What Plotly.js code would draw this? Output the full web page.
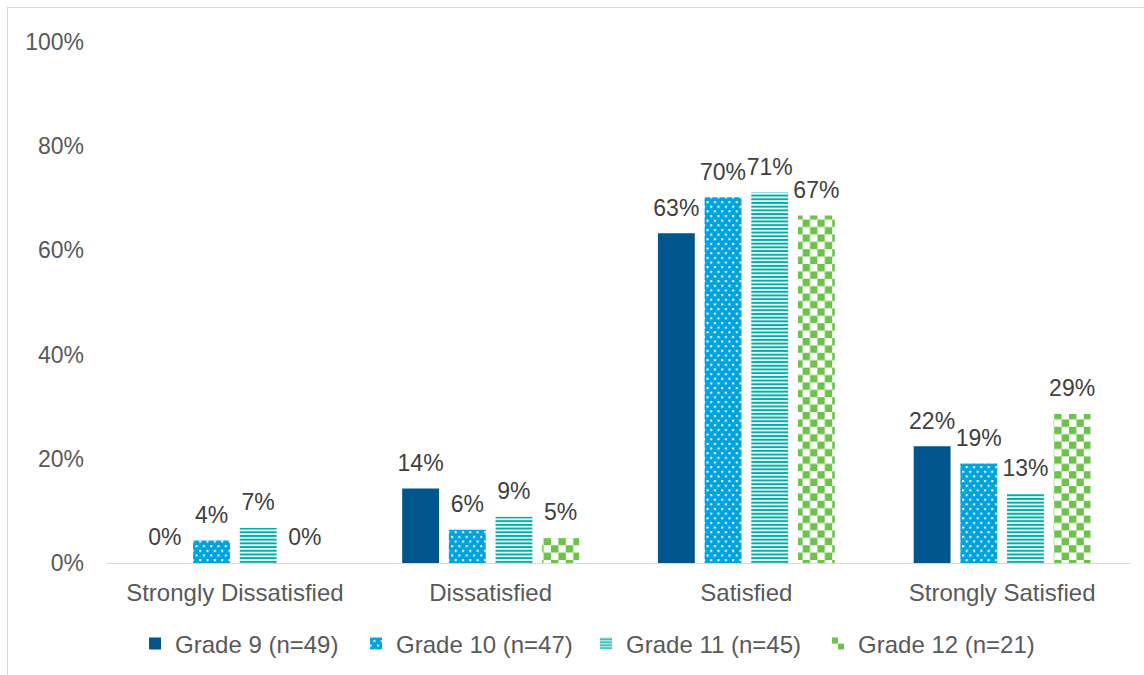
<!DOCTYPE html>
<html><head><meta charset="utf-8">
<script src="https://cdn.plot.ly/plotly-3.0.1.min.js"></script>
<style>
html,body{margin:0;padding:0;background:#fff;}
body{width:1144px;height:675px;overflow:hidden;position:relative;}
#frame{position:absolute;left:7px;top:7px;width:1160px;height:700px;border:1px solid #d9d9d9;box-sizing:border-box;}
#chart{position:absolute;left:0;top:0;width:1144px;height:675px;}
</style></head><body>
<div id="frame"></div>
<div id="chart"></div>
<script>
// ---- data ----
const categories = ['Strongly Dissatisfied', 'Dissatisfied', 'Satisfied', 'Strongly Satisfied'];
const seriesNames = ['Grade 9 (n=49)', 'Grade 10 (n=47)', 'Grade 11 (n=45)', 'Grade 12 (n=21)'];
const grade9  = [0, 14.3, 63.3, 22.4];
const grade10 = [4.3, 6.4, 70.2, 19.1];
const grade11 = [6.7, 8.9, 71.1, 13.3];
const grade12 = [0, 4.8, 66.7, 28.6];
const yTickVals = [0, 20, 40, 60, 80, 100];
const yTickText = ['0%', '20%', '40%', '60%', '80%', '100%'];

// ---- styles ----
const FONT = '"Liberation Sans", Arial, Helvetica, sans-serif';
const C9 = '#00558C', C10 = '#00A3E0', C11 = '#00ADA8', C12 = '#6CC24A';
const seriesValues = [grade9, grade10, grade11, grade12];
const markers = [
  {color: C9},
  {color: C10, pattern: {shape: '.', fgcolor: '#ffffff', fillmode: 'overlay', size: 7, solidity: 0.1}},
  {color: C11, pattern: {shape: '-', fgcolor: C11, bgcolor: '#ffffff', fillmode: 'replace', size: 3.7, solidity: 0.55}},
  {color: C12, pattern: {shape: '+', fgcolor: C12, bgcolor: '#ffffff', fillmode: 'replace', size: 7.4, solidity: 0.5}}
];
const legendWidths = [176, 185, 187, null];

const traces = [];
seriesValues.forEach((vals, i) => {
  const t = {
    type: 'bar', x: categories, y: vals, name: seriesNames[i],
    offsetgroup: 'g' + i,
    marker: Object.assign({line: {width: 0}}, markers[i]),
    hoverinfo: 'skip'
  };
  if (legendWidths[i]) t.legendwidth = legendWidths[i];
  traces.push(t);
});
seriesValues.forEach((vals, i) => {
  traces.push({
    type: 'scatter', mode: 'markers+text', x: categories, y: vals,
    offsetgroup: 'g' + i,
    texttemplate: '%{y:.0f}%', textposition: 'top center',
    textfont: {family: FONT, size: 23, color: '#404040'},
    marker: {size: 17.4, color: 'rgba(0,0,0,0)'},
    showlegend: false, cliponaxis: false, hoverinfo: 'skip'
  });
});

const layout = {
  width: 1144, height: 675,
  margin: {l: 107, r: 14, t: 42, b: 112, autoexpand: false},
  paper_bgcolor: 'rgba(0,0,0,0)', plot_bgcolor: 'rgba(0,0,0,0)',
  font: {family: FONT, color: '#595959', size: 22},
  barmode: 'group', bargap: 0.27, bargroupgap: 0.21,
  scattermode: 'group', scattergap: 0.27,
  showlegend: true,
  xaxis: {
    type: 'category', showgrid: false, zeroline: false,
    showline: true, linecolor: '#d9d9d9', linewidth: 1,
    ticks: '', tickfont: {size: 24, color: '#595959'}, ticklabelstandoff: 8
  },
  yaxis: {
    range: [0, 100], tickvals: yTickVals, ticktext: yTickText,
    showgrid: false, zeroline: false, showline: false, ticks: '',
    tickfont: {size: 23, color: '#595959'}, ticklabelstandoff: 22
  },
  legend: {
    orientation: 'h', x: 0.0274, xanchor: 'left', y: -0.1555, yanchor: 'middle',
    font: {size: 24, color: '#595959'}, itemwidth: 30, traceorder: 'normal',
    bgcolor: 'rgba(0,0,0,0)'
  }
};

const SVGNS = 'http://www.w3.org/2000/svg';
function addRect(pat, x, y, w, h, fill) {
  const r = document.createElementNS(SVGNS, 'rect');
  r.setAttribute('x', x); r.setAttribute('y', y);
  r.setAttribute('width', w); r.setAttribute('height', h);
  r.setAttribute('fill', fill);
  r.setAttribute('class', 'custom-tex');
  pat.appendChild(r);
}
function clearPat(pat, w, h) {
  while (pat.firstChild) pat.removeChild(pat.firstChild);
  pat.setAttribute('width', w); pat.setAttribute('height', h);
  pat.setAttribute('patternUnits', 'userSpaceOnUse');
  pat.removeAttribute('patternTransform');
}
function checker(pat) {
  const c = 7.4;
  clearPat(pat, 2 * c, 2 * c);
  addRect(pat, 0, 0, 2 * c, 2 * c, '#ffffff');
  addRect(pat, 0, 0, c, c, C12);
  addRect(pat, c, c, c, c, C12);
}
function staggerDots(pat) {
  const w = 7.3, h = 9.3, d = 2;
  clearPat(pat, w, h);
  addRect(pat, 0, 0, w, h, C10);
  addRect(pat, 1, 1, d, d, '#ffffff');
  addRect(pat, 1 + w / 2, 1 + h / 2, d, d, '#ffffff');
}
function norm(s) { return (s || '').toLowerCase().replace(/\s+/g, ''); }
function patchAll() {
  try {
    document.querySelectorAll('#chart pattern').forEach(pat => {
      if (pat.querySelector('.custom-tex')) return;
      const html = norm(pat.innerHTML);
      if (html.indexOf('108,194,74') >= 0 || html.indexOf('6cc24a') >= 0) checker(pat);
      else if (html.indexOf('0,163,224') >= 0 || html.indexOf('00a3e0') >= 0) staggerDots(pat);
    });
  } catch (e) { console.error(e); }
}

Plotly.newPlot('chart', traces, layout, {displayModeBar: false}).then(gd => {
  patchAll();
  gd.on('plotly_afterplot', patchAll);
  setTimeout(patchAll, 50);
  setTimeout(patchAll, 300);
});
</script>
</body></html>
